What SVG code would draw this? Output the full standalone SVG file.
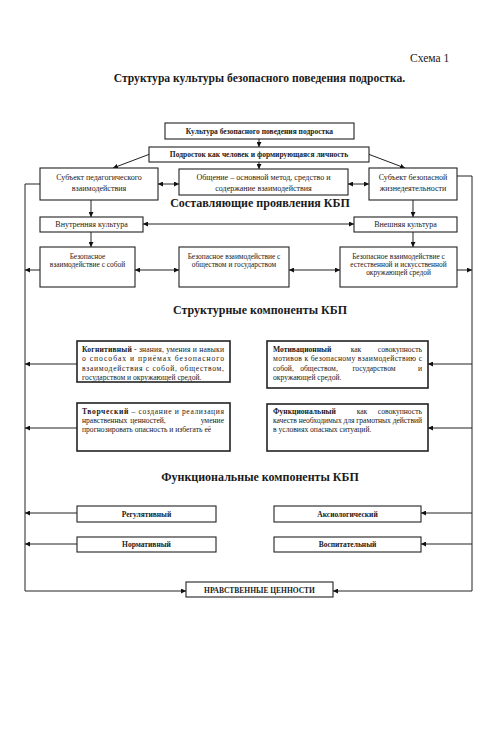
<svg xmlns="http://www.w3.org/2000/svg" width="484" height="732" viewBox="0 0 484 732">
<style>
text{font-family:"Liberation Serif","Times New Roman",serif;fill:#1a1a1a}
.h{font-size:11.6px;font-weight:bold}
.sec{font-size:12px;font-weight:bold;text-anchor:middle}
.bt{font-size:7.5px;font-weight:bold;text-anchor:middle}
.t{font-size:8px;text-anchor:middle}
.s{font-size:7.4px;text-anchor:middle}
.j{font-size:7.6px}
.m{text-anchor:middle}
.e{text-anchor:end}
.box{fill:#fff;stroke:#222;stroke-width:1.1}
.box2{fill:#fff;stroke:#222;stroke-width:1.6}
.c{fill:none;stroke:#222;stroke-width:1}
.a{marker-end:url(#ah)}
.d{marker-end:url(#ah);marker-start:url(#ah)}
</style>
<defs>
<marker id="ah" viewBox="0 0 10 10" refX="10" refY="5" markerWidth="5" markerHeight="5" markerUnits="userSpaceOnUse" orient="auto-start-reverse">
<path d="M0,0 L10,5 L0,10 z" fill="#111"/>
</marker>
</defs>
<rect width="484" height="732" fill="#fff"/>
<text x="410" y="62" style="font-size:11.5px">Схема 1</text>
<text x="259.5" y="82" class="h" text-anchor="middle">Структура культуры безопасного поведения подростка.</text>

<g id="connectors">
<path class="c a" d="M259,139 V147"/>
<path class="c a" d="M150,154 L113,168"/>
<path class="c a" d="M368,154 L405,168"/>
<path class="c a" d="M259,162 V169"/>
<path class="c d" d="M158,184 H179"/>
<path class="c d" d="M348,184 H369"/>
<path class="c a" d="M40,184 H25 V591 H186"/>
<path class="c a" d="M457,176 H472 V591 H333"/>
<path class="c a" d="M91,200 V217"/>
<path class="c a" d="M413,200 V217"/>
<path class="c d" d="M143,224 H354"/>
<path class="c a" d="M91,232 V247"/>
<path class="c a" d="M413,232 V247"/>
<path class="c d" d="M135,270 H179"/>
<path class="c d" d="M289,270 H340"/>
<path class="c a" d="M40,270 H25"/>
<path class="c a" d="M457,270 H472"/>
<path class="c a" d="M77,364 H25"/>
<path class="c a" d="M77,428 H25"/>
<path class="c a" d="M77,513 H25"/>
<path class="c a" d="M77,544 H25"/>
<path class="c a" d="M472,364 H428"/>
<path class="c a" d="M472,428 H428"/>
<path class="c a" d="M472,513 H421"/>
<path class="c a" d="M472,544 H421"/>
</g>

<g id="n-culture">
<rect class="box" x="165" y="123" width="189" height="16"/>
<text x="259.5" y="133.5" class="bt">Культура безопасного поведения подростка</text>
</g>
<g id="n-teen">
<rect class="box" x="149" y="147" width="220" height="15"/>
<text x="259" y="157" class="bt">Подросток как человек и формирующаяся личность</text>
</g>
<g id="n-subj-ped">
<rect class="box" x="40" y="168" width="118" height="32"/>
<text x="99" y="180" class="t">Субъект педагогического</text>
<text x="99" y="191" class="t">взаимодействия</text>
</g>
<g id="n-comm">
<rect class="box" x="179" y="169" width="169" height="26"/>
<text x="263.5" y="180" class="t">Общение – основной метод, средство и</text>
<text x="263.5" y="191" class="t">содержание взаимодействия</text>
</g>
<g id="n-subj-safe">
<rect class="box" x="369" y="168" width="88" height="32"/>
<text x="413" y="180" class="t">Субъект безопасной</text>
<text x="413" y="191" class="t">жизнедеятельности</text>
</g>
<text x="260" y="207" class="sec">Составляющие проявления КБП</text>
<g id="n-inner">
<rect class="box" x="40" y="217" width="103" height="15"/>
<text x="91.5" y="227" class="t">Внутренняя культура</text>
</g>
<g id="n-outer">
<rect class="box" x="354" y="217" width="103" height="15"/>
<text x="405.5" y="227" class="t">Внешняя культура</text>
</g>
<g id="n-self">
<rect class="box" x="40" y="247" width="95" height="40"/>
<text x="87.5" y="258.5" class="s">Безопасное</text>
<text x="87.5" y="266.5" class="s">взаимодействие с собой</text>
</g>
<g id="n-society">
<rect class="box" x="179" y="247" width="110" height="40"/>
<text x="234" y="258.5" class="s">Безопасное взаимодействие с</text>
<text x="234" y="266.5" class="s">обществом и государством</text>
</g>
<g id="n-env">
<rect class="box" x="340" y="247" width="117" height="40"/>
<text x="398.5" y="258.5" class="s">Безопасное взаимодействие с</text>
<text x="398.5" y="266.5" class="s">естественной и искусственной</text>
<text x="398.5" y="275" class="s">окружающей средой</text>
</g>
<text x="260" y="314" class="sec">Структурные компоненты КБП</text>

<g id="n-cognitive">
<rect class="box2" x="77" y="341" width="153" height="41"/>
<text x="82" y="351.5" class="j" textLength="142" lengthAdjust="spacing"><tspan font-weight="bold">Когнитивный</tspan> - знания, умения и навыки</text>
<text x="82" y="361" class="j" textLength="142" lengthAdjust="spacing">о способах и приёмах безопасного</text>
<text x="82" y="370.5" class="j" textLength="142" lengthAdjust="spacing">взаимодействия с собой, обществом,</text>
<text x="82" y="380" class="j">государством и окружающей средой.</text>
</g>
<g id="n-motiv">
<rect class="box2" x="267" y="341" width="161" height="47"/>
<text x="273" y="351.5" class="j" font-weight="bold">Мотивационный</text>
<text x="356" y="351.5" class="j m">как</text>
<text x="422" y="351.5" class="j e">совокупность</text>
<text x="273" y="361" class="j" textLength="149" lengthAdjust="spacing">мотивов к безопасному взаимодействию с</text>
<text x="273" y="370.5" class="j">собой,</text>
<text x="319" y="370.5" class="j m">обществом,</text>
<text x="374" y="370.5" class="j m">государством</text>
<text x="422" y="370.5" class="j e">и</text>
<text x="273" y="380" class="j">окружающей средой.</text>
</g>
<g id="n-creative">
<rect class="box2" x="77" y="403" width="153" height="48"/>
<text x="82" y="414" class="j" textLength="142" lengthAdjust="spacing"><tspan font-weight="bold">Творческий</tspan> – создание и реализация</text>
<text x="82" y="423" class="j">нравственных</text>
<text x="148" y="423" class="j m">ценностей,</text>
<text x="224" y="423" class="j e">умение</text>
<text x="82" y="432" class="j">прогнозировать опасность и избегать её</text>
</g>
<g id="n-func">
<rect class="box2" x="267" y="404" width="161" height="47"/>
<text x="273" y="414" class="j" font-weight="bold">Функциональный</text>
<text x="362" y="414" class="j m">как</text>
<text x="422" y="414" class="j e">совокупность</text>
<text x="273" y="423" class="j" textLength="149" lengthAdjust="spacing">качеств необходимых для грамотных действий</text>
<text x="273" y="432" class="j">в условиях опасных ситуаций.</text>
</g>
<text x="260" y="481" class="sec">Функциональные компоненты КБП</text>

<g id="n-reg">
<rect class="box" x="77" y="506" width="139" height="16"/>
<text x="146.5" y="516.5" class="bt">Регулятивный</text>
</g>
<g id="n-norm">
<rect class="box" x="77" y="537" width="139" height="15"/>
<text x="146.5" y="547" class="bt">Нормативный</text>
</g>
<g id="n-axio">
<rect class="box" x="274" y="506" width="147" height="16"/>
<text x="347.5" y="516.5" class="bt">Аксиологический</text>
</g>
<g id="n-edu">
<rect class="box" x="274" y="537" width="147" height="15"/>
<text x="347.5" y="547" class="bt">Воспитательный</text>
</g>
<g id="n-values">
<rect class="box" x="186" y="582" width="147" height="15"/>
<text x="259.5" y="592.5" class="bt">НРАВСТВЕННЫЕ ЦЕННОСТИ</text>
</g>
</svg>
